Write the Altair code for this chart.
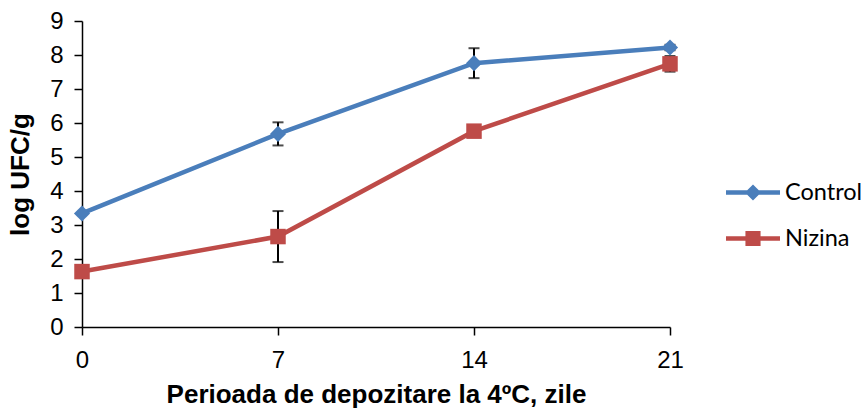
import altair as alt
import pandas as pd

days = [0, 7, 14, 21]
series_names = ["Control", "Nizina"]
control_vals = [3.34, 5.68, 7.76, 8.22]
control_err = [0.0, 0.34, 0.44, 0.08]
nizina_vals = [1.63, 2.66, 5.76, 7.74]
nizina_err = [0.0, 0.75, 0.08, 0.23]
y_ticks = [0, 1, 2, 3, 4, 5, 6, 7, 8, 9]

rows = []
for name, vals, errs in [("Control", control_vals, control_err), ("Nizina", nizina_vals, nizina_err)]:
    for d, v, e in zip(days, vals, errs):
        rows.append({"day": d, "series": name, "value": v, "lo": v - e, "hi": v + e, "err": e})
df = pd.DataFrame(rows)

colors = ["#4a7ebb", "#be4b48"]
FONT = "Liberation Sans"

ctrl_path = "M-2,-0.16H-0.43L0,-0.59L0.43,-0.16H2V0.16H0.43L0,0.59L-0.43,0.16H-2Z"
niz_path = "M-2,-0.16H-0.56V-0.56H0.56V-0.16H2V0.16H0.56V0.56H-0.56V0.16H-2Z"

xs = alt.Scale(domain=[0, 21], nice=False, zero=False)
ys = alt.Scale(domain=[0, 9], nice=False)

x_axis = alt.Axis(values=days, title="Perioada de depozitare la 4ºC, zile",
                  grid=False, domainColor="black", domainWidth=1.5,
                  tickColor="black", tickWidth=1.5, tickSize=8,
                  labelFont=FONT, labelFontSize=24, labelColor="black",
                  labelPadding=13, labelFlush=False, labelOverlap=False,
                  titleFont=FONT, titleFontSize=26, titleFontWeight="bold",
                  titleColor="black", titleX=294, titleY=75,
                  titleBaseline="alphabetic", titleAlign="center")
y_axis = alt.Axis(values=y_ticks, title="log UFC/g", grid=False,
                  domainColor="black", domainWidth=1.5,
                  tickColor="black", tickWidth=1.5, tickSize=8,
                  labelFont=FONT, labelFontSize=24, labelColor="black",
                  labelPadding=11, labelFlush=False, labelOverlap=False,
                  titleFont=FONT, titleFontSize=26, titleFontWeight="bold",
                  titleColor="black", titleAngle=270, titleX=-49, titleY=153,
                  titleBaseline="bottom", titleAlign="center")


def X():
    return alt.X("day:Q", scale=xs, axis=x_axis)


def Y(field):
    return alt.Y(f"{field}:Q", scale=ys, axis=y_axis)


color_scale = alt.Scale(domain=series_names, range=colors)

legend = alt.Legend(
    title=None, orient="none", legendX=657.5, legendY=158, padding=0,
    symbolSize=729, labelOffset=18.5, rowPadding=21, symbolStrokeWidth=0,
    symbolOpacity=1,
    labelFont="Lato", labelFontSize=23.5, labelColor="black",
)


def C():
    return alt.Color("series:N", scale=color_scale, legend=legend)


base = alt.Chart(df)

lines = base.mark_line(strokeWidth=4.5).encode(
    x=X(), y=Y("value"), color=C(), detail="series:N")

err_df = df[df["err"] > 0]
ebase = alt.Chart(err_df)
rules = ebase.mark_rule(color="black", strokeWidth=2).encode(
    x=X(), y=Y("lo"), y2="hi:Q")
caps_lo = ebase.mark_tick(color="black", orient="horizontal", size=11, thickness=2).encode(
    x=X(), y=Y("lo"))
caps_hi = ebase.mark_tick(color="black", orient="horizontal", size=11, thickness=2).encode(
    x=X(), y=Y("hi"))

pts_ctrl = base.transform_filter("datum.series === 'Control'").mark_point(
    filled=True, opacity=1, shape="diamond", size=260).encode(
    x=X(), y=Y("value"), color=C())
pts_niz = base.transform_filter("datum.series === 'Nizina'").mark_point(
    filled=True, opacity=1, shape="square", size=240).encode(
    x=X(), y=Y("value"), color=C())

legend_layer = base.mark_point(
    filled=True, opacity=1, strokeWidth=0, size=0).encode(
    x=X(), y=Y("value"), color=C(),
    shape=alt.Shape("series:N", scale=alt.Scale(domain=series_names, range=[ctrl_path, niz_path]),
                    legend=legend),
)

chart = alt.layer(legend_layer, lines, rules, caps_lo, caps_hi, pts_ctrl, pts_niz).properties(
    width=588, height=306,
    autosize=alt.AutoSizeParams(type="none"),
    padding={"left": 82, "top": 21, "right": 198, "bottom": 81},
    background="white",
).configure_view(stroke=None)

chart.save("out.html", embed_options={"renderer": "svg", "actions": False})
